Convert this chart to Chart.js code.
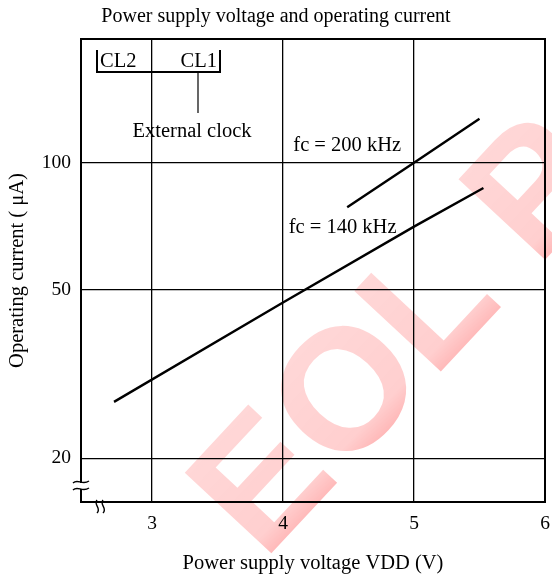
<!DOCTYPE html>
<html>
<head>
<meta charset="utf-8">
<script src="https://cdn.jsdelivr.net/npm/chart.js@4"></script>
<style>
  html, body { margin: 0; padding: 0; background: #fff; }
  #wrap { width: 552px; height: 576px; }
</style>
</head>
<body>
<div id="wrap"><canvas id="chart"></canvas></div>
<script>
// axis ticks
const xTicks = [3, 4, 5, 6];
const yTicks = [20, 50, 100];

// fc = 140 kHz curve
const volt140 = [2.71, 4.0, 5.0, 5.53];
const curr140 = [27.2, 46.7, 70.6, 87.1];

// fc = 200 kHz curve
const volt200 = [4.49, 5.0, 5.50];
const curr200 = [78.4, 100, 127];

// curve labels, placed in data units
const curveLabels = ['fc = 200 kHz', 'fc = 140 kHz'];
const labelVolt = [4.49, 4.455];
const labelCurr = [110, 70.3];

const SERIF = '"Liberation Serif", "Times New Roman", serif';
const TXT = 20.5;

function toPoints(xs, ys) {
  return xs.map((x, i) => ({ x: x, y: ys[i] }));
}

const watermark = {
  id: 'watermark',
  beforeDraw(chart) {
    const ctx = chart.ctx;
    ctx.save();
    ctx.translate(262, 482);
    ctx.rotate(-47 * Math.PI / 180);
    ctx.font = 'bold 172px "Liberation Sans", Arial, sans-serif';
    ctx.textBaseline = 'middle';
    const w = ctx.measureText('E').width;
    const g = ctx.createLinearGradient(0, -90, 0, 90);
    g.addColorStop(0, 'rgba(255,0,0,0.15)');
    g.addColorStop(0.7, 'rgba(255,0,0,0.19)');
    g.addColorStop(1, 'rgba(255,0,0,0.42)');
    ctx.fillStyle = g;
    ctx.fillText('EOL Product', -w / 2, 8);
    ctx.restore();
  }
};

const extras = {
  id: 'extras',
  afterDraw(chart) {
    const ctx = chart.ctx;
    const a = chart.chartArea;
    const xs = chart.scales.x;
    const ys = chart.scales.y;
    ctx.save();

    // frame
    ctx.strokeStyle = '#000';
    ctx.lineWidth = 2;
    ctx.strokeRect(a.left, a.top, a.right - a.left, a.bottom - a.top);

    // axis break marks, bottom left
    ctx.fillStyle = '#fff';
    ctx.fillRect(a.left - 3, a.bottom - 19, 6, 6);
    ctx.lineWidth = 1.4;
    ctx.beginPath();
    [a.bottom - 20, a.bottom - 13].forEach(y => {
      ctx.moveTo(a.left - 8, y + 1);
      ctx.bezierCurveTo(a.left - 3, y - 4, a.left + 1, y + 4, a.left + 8, y - 1);
    });
    [a.left + 17, a.left + 23].forEach(x => {
      ctx.moveTo(x - 1, a.bottom - 2);
      ctx.bezierCurveTo(x - 5, a.bottom + 3, x + 4, a.bottom + 6, x - 1, a.bottom + 11);
    });
    ctx.stroke();

    // clock inset
    ctx.lineWidth = 2;
    ctx.beginPath();
    ctx.moveTo(a.left + 16, a.top + 11);
    ctx.lineTo(a.left + 16, a.top + 33);
    ctx.lineTo(a.left + 139, a.top + 33);
    ctx.lineTo(a.left + 139, a.top + 11);
    ctx.stroke();
    ctx.lineWidth = 1.2;
    ctx.beginPath();
    ctx.moveTo(a.left + 117, a.top + 33);
    ctx.lineTo(a.left + 117, a.top + 74);
    ctx.stroke();

    ctx.fillStyle = '#000';
    ctx.font = TXT + 'px ' + SERIF;
    ctx.textBaseline = 'middle';
    ctx.textAlign = 'left';
    ctx.fillText('CL2', a.left + 19, a.top + 23);
    ctx.textAlign = 'right';
    ctx.fillText('CL1', a.left + 136, a.top + 23);
    ctx.textAlign = 'center';
    ctx.fillText('External clock', a.left + 111, a.top + 93);

    // curve labels
    curveLabels.forEach((t, i) => {
      ctx.fillText(t, xs.getPixelForValue(labelVolt[i]), ys.getPixelForValue(labelCurr[i]));
    });
    ctx.restore();
  }
};

const config = {
  type: 'scatter',
  data: {
    datasets: [{
      label: 'fc = 140 kHz',
      data: toPoints(volt140, curr140),
      showLine: true,
      borderColor: '#000',
      borderWidth: 2.4,
      pointRadius: 0,
      tension: 0
    }, {
      label: 'fc = 200 kHz',
      data: toPoints(volt200, curr200),
      showLine: true,
      borderColor: '#000',
      borderWidth: 2.4,
      pointRadius: 0,
      tension: 0
    }]
  },
  options: {
    responsive: true,
    maintainAspectRatio: false,
    animation: false,
    layout: { padding: { left: 0, right: 0, top: 0, bottom: 0 } },
    plugins: {
      legend: { display: false },
      tooltip: { enabled: false },
      title: {
        display: true,
        text: 'Power supply voltage and operating current',
        color: '#000',
        font: { family: SERIF, size: 20, weight: 'normal' },
        padding: { top: 5, bottom: 10 }
      }
    },
    scales: {
      x: {
        type: 'linear',
        min: 2.458,
        max: 6,
        afterBuildTicks: s => { s.ticks = xTicks.map(v => ({ value: v })); },
        afterFit: s => { s.height = 74; s.paddingRight = 7; s.paddingLeft = 0; },
        grid: { color: '#000', lineWidth: 1.3, drawTicks: false },
        border: { display: false },
        ticks: {
          color: '#000',
          padding: 10,
          maxRotation: 0,
          font: { family: SERIF, size: 19.5 },
          callback: v => String(v)
        },
        title: {
          display: true,
          text: 'Power supply voltage VDD (V)',
          color: '#000',
          font: { family: SERIF, size: TXT },
          padding: { top: 7, bottom: 0 }
        }
      },
      y: {
        type: 'logarithmic',
        min: 15.77,
        max: 196,
        afterBuildTicks: s => { s.ticks = yTicks.map(v => ({ value: v })); },
        afterFit: s => { s.width = 81; },
        grid: { color: '#000', lineWidth: 1.3, drawTicks: false },
        border: { display: false },
        ticks: {
          color: '#000',
          padding: 10,
          font: { family: SERIF, size: 19.5 },
          callback: v => String(v)
        },
        title: {
          display: true,
          text: 'Operating current ( μA)',
          color: '#000',
          font: { family: SERIF, size: TXT },
          padding: { top: 5, bottom: 0 }
        }
      }
    }
  },
  plugins: [watermark, extras]
};

new Chart(document.getElementById('chart'), config);
</script>
</body>
</html>
